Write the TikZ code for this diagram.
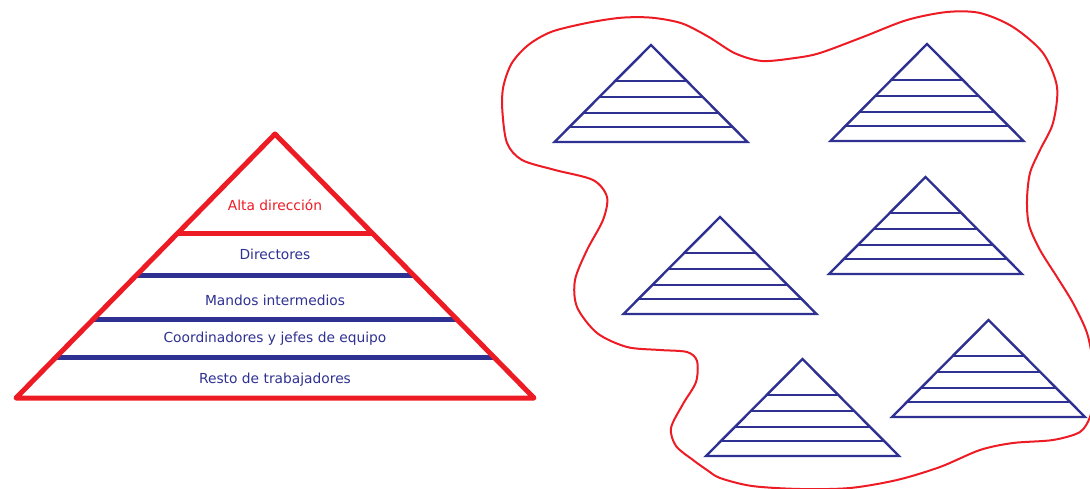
\documentclass[tikz,border=0pt]{standalone}
\usepackage{fontspec}
\setmainfont{DejaVu Sans}
\usetikzlibrary{calc}
\definecolor{pyrred}{HTML}{ED1C24}
\definecolor{pyrblue}{HTML}{2E3192}
\begin{document}
\begin{tikzpicture}[x=1pt,y=-1pt,
  lbl/.style={font=\fontsize{13.8}{16}\selectfont, text=pyrblue, anchor=center, inner sep=0pt},
  blueband/.style={line width=5pt, draw=pyrblue},
  redband/.style={line width=5pt, draw=pyrred},
  bigedge/.style={line width=5pt, draw=pyrred, line join=round, line cap=round},
  blob/.style={line width=2pt, draw=pyrred},
  spyr/.pic={
    \draw[pyrblue, line width=2.4pt, line join=miter] (0,0) -- (96.5,97) -- (-96.5,97) -- cycle;
    \foreach \d in {36,52,68,82}
      \draw[pyrblue, line width=2.4pt] (-96.5*\d/97,\d) -- (96.5*\d/97,\d);
  }]
\useasboundingbox (0,0) rectangle (1090,489);

% big pyramid
\coordinate (A) at (275,134);
\coordinate (L) at (16,398);
\coordinate (R) at (534,398);
\foreach \t/\n in {0.3769/s1,0.536/s2,0.7045/s3,0.8466/s4}{
  \coordinate (\n l) at ($(A)!\t!(L)$);
  \coordinate (\n r) at ($(A)!\t!(R)$);
}
\draw[redband] (s1l) -- (s1r);
\draw[blueband] (s2l) -- (s2r);
\draw[blueband] (s3l) -- (s3r);
\draw[blueband] (s4l) -- (s4r);
\draw[bigedge] (A) -- (R) -- (L) -- cycle;

\node[lbl, text=pyrred] (t1) at (275,205) {Alta dirección};
\node[lbl] (t2) at (275,254) {Directores};
\node[lbl] (t3) at (275,300) {Mandos intermedios};
\node[lbl] (t4) at (275,339) {Coordinadores y jefes de equipo};
\node[lbl] (t5) at (275,380) {Resto de trabajadores};

% blob
\draw[blob] plot[smooth cycle, tension=0.5] coordinates {
 (502.3,110) (503.3,86.7) (511.7,63.3) (528.3,45) (551.7,31.7) (588.3,22.7)
 (621.7,17.7) (651.7,17.7) (681.7,23.3) (708.3,36.7) (735,53.3) (762,61)
 (795,58) (820,53) (863,37) (907,20) (947,12) (980,13) (1013,27) (1043,53)
 (1057,87) (1053,123) (1040,150) (1030,173) (1027,200) (1029,225) (1040,250)
 (1057,277) (1073,303) (1087,333) (1093,365) (1093,400) (1090,417) (1080,432)
 (1053,440) (1013,443) (980,450) (940,467) (897,480) (850,488) (800,489)
 (752,486) (720,478) (707,470) (693,460) (676,446) (671,428) (683,404)
 (696,382) (697,361) (687,352) (660,350) (627,347) (597,333) (577,307)
 (575,280) (587,250) (603,220) (607,197) (593,180) (555,170) (522,160)
 (507,143)};

% small pyramids
\pic at (651,45) {spyr};
\pic at (927,44) {spyr};
\pic at (925.5,177) {spyr};
\pic at (720,217) {spyr};
\pic at (802.5,359) {spyr};
\pic at (988.5,320) {spyr};
\end{tikzpicture}
\end{document}
